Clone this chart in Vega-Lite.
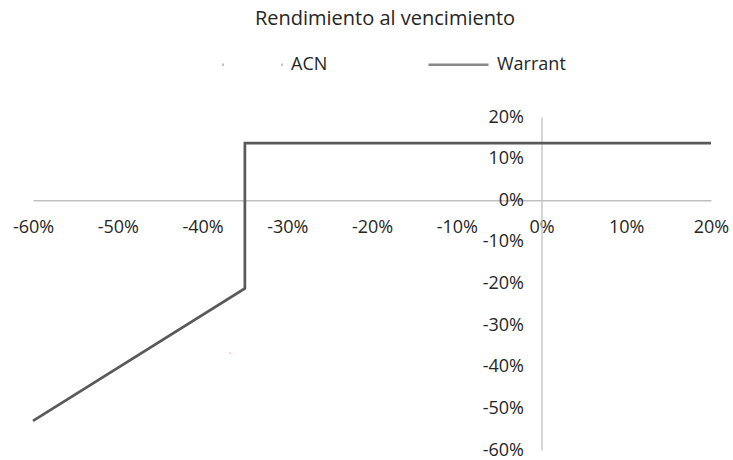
{
  "$schema": "https://vega.github.io/schema/vega-lite/v6.json",
  "width": 678,
  "height": 333,
  "autosize": {"type": "none"},
  "padding": {"left": 33, "top": 117, "right": 22, "bottom": 10},
  "background": "white",
  "title": {
    "text": "Rendimiento al vencimiento",
    "anchor": "middle",
    "dx": 13,
    "offset": 4,
    "fontSize": 20,
    "fontWeight": "normal",
    "font": "Open Sans",
    "color": "#262626"
  },
  "datasets": {
    "acn": [
      {"series": "ACN", "x": -0.6, "y": -0.6, "order": 1},
      {"series": "ACN", "x": 0.2, "y": 0.2, "order": 2}
    ],
    "warrant": [
      {"series": "Warrant", "x": -0.6, "y": -0.53, "order": 1},
      {"series": "Warrant", "x": -0.35, "y": -0.212, "order": 2},
      {"series": "Warrant", "x": -0.35, "y": 0.137, "order": 3},
      {"series": "Warrant", "x": 0.2, "y": 0.137, "order": 4}
    ]
  },
  "encoding": {
    "x": {
      "field": "x",
      "type": "quantitative",
      "scale": {"domain": [-0.6, 0.2], "nice": false, "zero": false},
      "axis": {
        "orient": "bottom",
        "offset": -249.75,
        "title": null,
        "format": ".0%",
        "labelExpr": "replace(datum.label, '−', '-')",
        "values": [-0.6, -0.5, -0.4, -0.3, -0.2, -0.1, 0, 0.1, 0.2],
        "grid": false,
        "ticks": false,
        "domainColor": "#c0c0c0",
        "domainWidth": 1.3,
        "labelPadding": 18,
        "labelFont": "Open Sans",
        "labelFontSize": 18,
        "labelColor": "#262626",
        "labelFlush": false,
        "labelOverlap": false,
        "zindex": 0
      }
    },
    "y": {
      "field": "y",
      "type": "quantitative",
      "scale": {"domain": [-0.6, 0.2], "nice": false, "zero": false},
      "axis": {
        "orient": "left",
        "offset": -508.5,
        "title": null,
        "format": ".0%",
        "labelExpr": "replace(datum.label, '−', '-')",
        "values": [-0.6, -0.5, -0.4, -0.3, -0.2, -0.1, 0, 0.1, 0.2],
        "grid": false,
        "ticks": false,
        "domainColor": "#c0c0c0",
        "domainWidth": 1.3,
        "labelPadding": 18,
        "labelFont": "Open Sans",
        "labelFontSize": 18,
        "labelColor": "#262626",
        "labelFlush": false,
        "labelOverlap": false,
        "zindex": 0
      }
    },
    "order": {"field": "order", "type": "quantitative"}
  },
  "layer": [
    {
      "data": {"name": "acn"},
      "mark": {"type": "line", "strokeWidth": 1, "strokeDash": [0, 219, 1.5, 1000], "strokeCap": "butt"},
      "encoding": {
        "color": {
          "field": "series",
          "type": "nominal",
          "scale": {"domain": ["ACN", "Warrant"], "range": ["#ff8a8a", "#595959"]},
          "legend": null
        }
      }
    },
    {
      "data": {"name": "warrant"},
      "mark": {"type": "line", "strokeWidth": 2.7, "strokeJoin": "miter"},
      "encoding": {
        "color": {
          "field": "series",
          "type": "nominal",
          "scale": {"domain": ["ACN", "Warrant"], "range": ["#ff8a8a", "#595959"]},
          "legend": null
        }
      }
    },
    {
      "data": {"values": [
        {"series": "ACN", "x": 0.2, "y": 0.2, "order": 1},
        {"series": "Warrant", "x": 0.2, "y": 0.2, "order": 1}
      ]},
      "mark": {"type": "line", "opacity": 0},
      "encoding": {
        "color": {
          "field": "series",
          "type": "nominal",
          "scale": {"domain": ["ACN", "Warrant"], "range": ["#ff8a8a", "#595959"]},
          "legend": {
            "title": null,
            "orient": "none",
            "direction": "horizontal",
            "legendX": 188,
            "legendY": -84,
            "symbolType": "stroke",
            "symbolSize": 3600,
            "symbolStrokeWidth": 2.7,
            "symbolOpacity": 1,
            "labelFont": "Open Sans",
            "labelFontSize": 18,
            "labelColor": "#262626",
            "labelOffset": 7,
            "columnPadding": 95
          }
        },
        "strokeDash": {
          "field": "series",
          "type": "nominal",
          "scale": {"domain": ["ACN", "Warrant"], "range": [[1, 58], [1, 0]]},
          "legend": {
            "title": null,
            "orient": "none",
            "direction": "horizontal",
            "legendX": 188,
            "legendY": -84,
            "symbolType": "stroke",
            "symbolSize": 3600,
            "symbolStrokeWidth": 2.7,
            "symbolOpacity": 1,
            "labelFont": "Open Sans",
            "labelFontSize": 18,
            "labelColor": "#262626",
            "labelOffset": 7,
            "columnPadding": 95
          }
        }
      }
    }
  ],
  "resolve": {"scale": {"color": "shared", "strokeDash": "independent"}},
  "config": {"view": {"stroke": null}}
}
